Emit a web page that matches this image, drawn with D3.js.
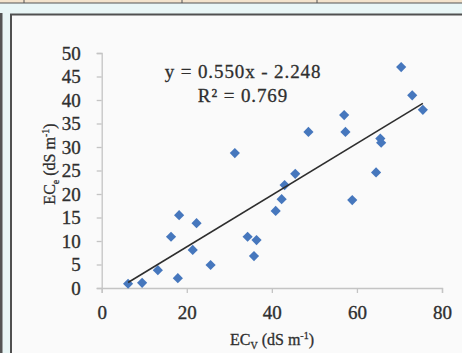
<!DOCTYPE html>
<html><head><meta charset="utf-8">
<script src="https://cdn.jsdelivr.net/npm/d3@7"></script>
<style>html,body{margin:0;padding:0;background:#e9f6f6;overflow:hidden}</style>
</head><body>
<script>
const ecV = [6.2, 9.5, 13.2, 17.9, 16.3, 18.2, 22.3, 21.4, 25.6, 31.3, 34.3, 36.4, 35.8, 40.9, 42.3, 43.0, 45.5, 48.6, 57.0, 57.3, 58.9, 64.5, 65.5, 65.7, 70.4, 73.0, 75.5];
const ecE = [0.9, 1.1, 3.8, 2.1, 10.9, 15.5, 13.8, 8.1, 4.9, 28.7, 10.9, 10.2, 6.8, 16.4, 18.9, 21.9, 24.3, 33.2, 36.8, 33.2, 18.7, 24.6, 31.8, 30.9, 47.0, 41.0, 37.9];
const xTicks = [0, 20, 40, 60, 80];
const yTicks = [0, 5, 10, 15, 20, 25, 30, 35, 40, 45, 50];
const slope = 0.550, intercept = -2.248;
const eqText = "y = 0.550x - 2.248";
const r2Text = "R² = 0.769";

const W = 462, H = 353;
const svg = d3.select("body").append("svg").attr("width", W).attr("height", H);

// frame decoration
svg.append("rect").attr("x",0).attr("y",0).attr("width",W).attr("height",3).attr("fill","#f3e3cc");
svg.append("line").attr("x1",0).attr("x2",W).attr("y1",3).attr("y2",3).attr("stroke","#555").attr("stroke-width",1.2);
[24,182,317].forEach(x=>svg.append("line").attr("x1",x).attr("x2",x).attr("y1",0).attr("y2",3).attr("stroke","#555"));
svg.append("rect").attr("x",0).attr("y",13).attr("width",2.5).attr("height",H-13).attr("fill","#555");
svg.append("rect").attr("x",11).attr("y",14.5).attr("width",W).attr("height",H).attr("fill","#fafafa").attr("stroke","#505050").attr("stroke-width",2);

const x = d3.scaleLinear().domain([0,80]).range([101.7,442]);
const y = d3.scaleLinear().domain([0,50]).range([288,53]);

const font = "'Liberation Serif','Times New Roman',serif";
const tcol = "#2f2f2f";

const xAxis = svg.append("g").attr("transform","translate(0,288)")
  .call(d3.axisBottom(x).tickValues(xTicks).tickSize(5).tickPadding(13));
const yAxis = svg.append("g").attr("transform","translate(101.7,0)")
  .call(d3.axisLeft(y).tickValues(yTicks).tickSize(5).tickPadding(16));
[xAxis,yAxis].forEach(g=>{
  g.selectAll("path,line").attr("stroke","#c4c4c4").attr("stroke-width",1.3);
  g.selectAll("text").attr("font-family",font).attr("font-size",19).attr("fill",tcol)
    .attr("stroke",tcol).attr("stroke-width",0.35);
});

// points
const pts = ecV.map((v,i)=>[v,ecE[i]]);
svg.append("g").selectAll("path").data(pts).join("path")
  .attr("d", d3.symbol().type(d3.symbolDiamond2).size(66))
  .attr("transform", d=>`translate(${x(d[0])},${y(d[1])})`)
  .attr("fill","#4677bd");

// trend line
const xmin = d3.min(ecV), xmax = d3.max(ecV);
svg.append("line")
  .attr("x1",x(xmin)).attr("y1",y(slope*xmin+intercept))
  .attr("x2",x(xmax)).attr("y2",y(slope*xmax+intercept))
  .attr("stroke","#2e2e2e").attr("stroke-width",1.6);

// equation
const eqAttrs = g => g.attr("text-anchor","middle").attr("font-family",font).attr("font-size",19)
  .attr("fill",tcol).attr("stroke",tcol).attr("stroke-width",0.3).attr("letter-spacing",0.9);
svg.append("text").attr("x",243).attr("y",78).call(eqAttrs).text(eqText);
svg.append("text").attr("x",243).attr("y",102).call(eqAttrs).text(r2Text);

// axis titles
const tAttrs = g => g.attr("text-anchor","middle").attr("font-family",font).attr("font-size",16)
  .attr("fill",tcol).attr("stroke",tcol).attr("stroke-width",0.3);
const xt = svg.append("text").attr("x",272).attr("y",345).call(tAttrs);
xt.append("tspan").text("EC");
xt.append("tspan").attr("dy",4).attr("font-size",10).text("V");
xt.append("tspan").attr("dy",-4).text(" (dS m");
xt.append("tspan").attr("dy",-6).attr("font-size",10).text("-1");
xt.append("tspan").attr("dy",6).text(")");

const yt = svg.append("text").attr("transform","translate(55,164) rotate(-90)").call(tAttrs);
yt.append("tspan").text("EC");
yt.append("tspan").attr("dy",4).attr("font-size",10).text("e");
yt.append("tspan").attr("dy",-4).text(" (dS m");
yt.append("tspan").attr("dy",-6).attr("font-size",10).text("-1");
yt.append("tspan").attr("dy",6).text(")");
</script>
</body></html>
